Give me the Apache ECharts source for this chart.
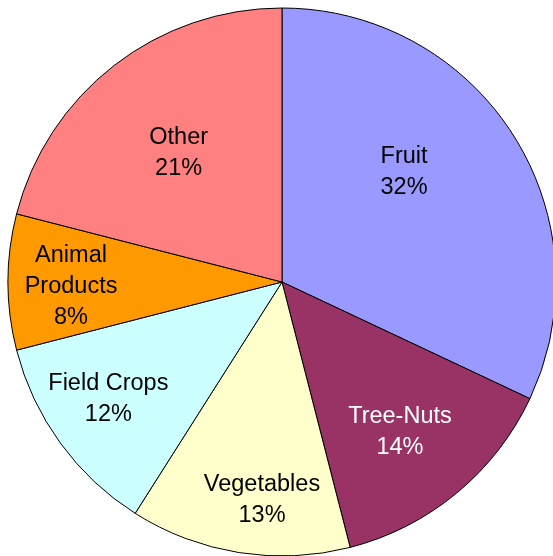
<!DOCTYPE html>
<html>
<head>
<meta charset="utf-8">
<script src="https://cdn.jsdelivr.net/npm/echarts@6/dist/echarts.min.js"></script>
<style>
	html, body { margin: 0; padding: 0; background: #fff; }
	#main { width: 553px; height: 556px; }
</style>
</head>
<body>
<div id="main"></div>
<script>
// slice data, clockwise from 12 o'clock
var categories = ['Fruit', 'Tree-Nuts', 'Vegetables', 'Field Crops', 'Animal\nProducts', 'Other'];
var shares = [32, 14, 13, 12, 8, 21];
var colors = ['#9999FF', '#993366', '#FFFFCC', '#CCFFFF', '#FF9900', '#FF8080'];
var labelColors = ['#000', '#fff', '#000', '#000', '#000', '#000'];

// where each label sits: angle from top (deg, clockwise) and fraction of radius
var labelAngle = [47.4, 141.4, 185.3, 236.5, 269.3, 321.8];
var labelDist = [0.605, 0.69, 0.79, 0.76, 0.77, 0.61];

var CX = 282, CY = 282, R = 274;

var myChart = echarts.init(document.getElementById('main'), null, { renderer: 'canvas' });

var pieData = [];
for (var i = 0; i < categories.length; i++) {
	pieData.push({
		name : categories[i],
		value : shares[i],
		itemStyle : { color : colors[i] },
		label : { color : labelColors[i] }
	});
}

var option = {
	animation : false,
	series : [ {
		type : 'pie',
		center : [CX, CY],
		radius : R,
		startAngle : 90,
		clockwise : true,
		avoidLabelOverlap : false,
		silent : true,
		itemStyle : {
			borderColor : '#000',
			borderWidth : 1
		},
		label : {
			show : true,
			position : 'inside',
			formatter : '{b}\n{c}%',
			fontFamily : '"Liberation Sans", Arial, sans-serif',
			fontSize : 23.5,
			lineHeight : 31,
			align : 'center'
		},
		labelLine : { show : false },
		labelLayout : function(params) {
			var k = params.dataIndex;
			var a = labelAngle[k] * Math.PI / 180;
			var r = R * labelDist[k];
			// small downward nudge to match the reference baselines
			return {
				x : CX + r * Math.sin(a),
				y : CY - r * Math.cos(a) + 2,
				align : 'center',
				verticalAlign : 'middle'
			};
		},
		data : pieData
	} ]
};
myChart.setOption(option);
</script>
</body>
</html>
